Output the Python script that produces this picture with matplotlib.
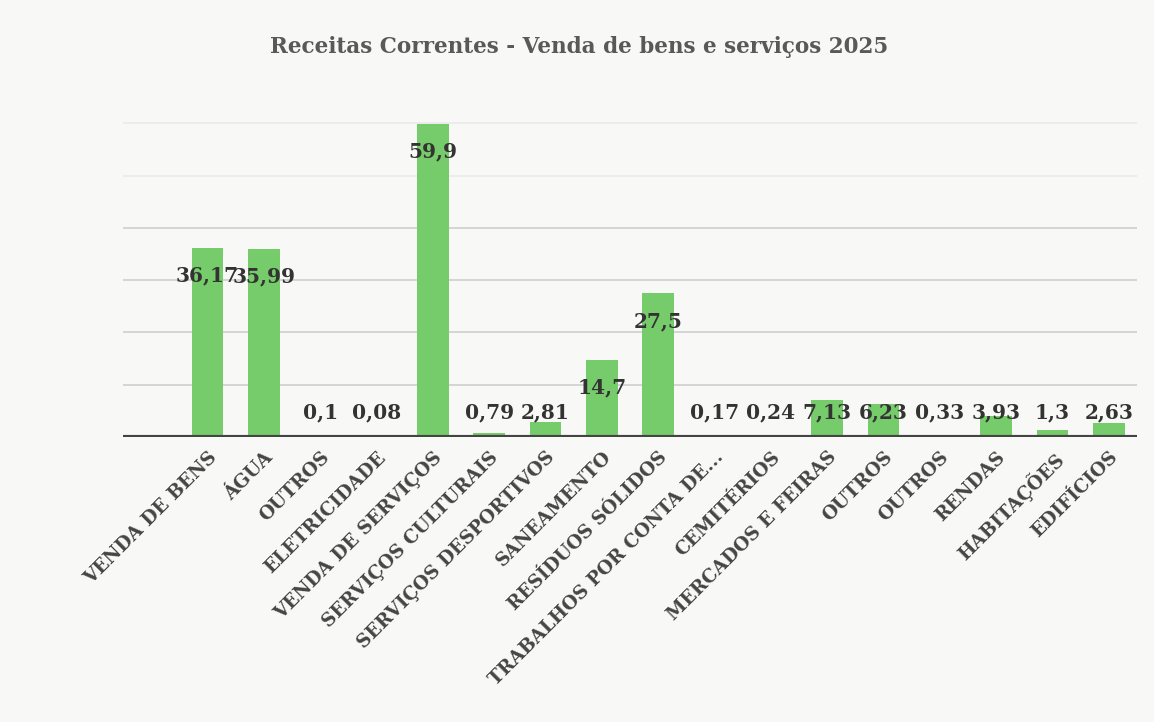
import matplotlib
matplotlib.use("Agg")
import matplotlib.pyplot as plt
import numpy as np

categories = [
    "VENDA DE BENS", "ÁGUA", "OUTROS", "ELETRICIDADE", "VENDA DE SERVIÇOS",
    "SERVIÇOS CULTURAIS", "SERVIÇOS DESPORTIVOS", "SANEAMENTO", "RESÍDUOS SÓLIDOS",
    "TRABALHOS POR CONTA DE...", "CEMITÉRIOS", "MERCADOS E FEIRAS", "OUTROS",
    "OUTROS", "RENDAS", "HABITAÇÕES", "EDIFÍCIOS",
]
values = [36.17, 35.99, 0.1, 0.08, 59.9, 0.79, 2.81, 14.7, 27.5,
          0.17, 0.24, 7.13, 6.23, 0.33, 3.93, 1.3, 2.63]
value_labels = ["36,17", "35,99", "0,1", "0,08", "59,9", "0,79", "2,81", "14,7", "27,5",
                "0,17", "0,24", "7,13", "6,23", "0,33", "3,93", "1,3", "2,63"]

bar_color = "#76cc6a"
text_color = "#333333"
bg = "#f8f8f6"

plt.rcParams["font.family"] = ["DejaVu Serif"]

fig = plt.figure(figsize=(11.54, 7.22), dpi=100, facecolor=bg)
ax = fig.add_axes([0.1066, 0.3947, 0.8787, 0.507])
ax.set_facecolor(bg)

x = np.arange(len(categories))
ax.bar(x, values, width=0.56, color=bar_color, zorder=2)

# gridlines (upper ones barely visible in the scan)
for g in range(10, 70, 10):
    ax.axhline(g, color="#d2d2d2" if g <= 40 else "#ebebeb", lw=1.3, zorder=1)
ax.axhline(0, color="#444444", lw=3, zorder=3)

for xi, v, lab in zip(x, values, value_labels):
    ax.text(xi, max(v - 5.3, 4.7), lab, ha="center", va="center",
            fontsize=14.5, fontweight="bold", color=text_color, zorder=4)

ax.set_xlim(-1.5, 16.5)
ax.set_ylim(0, 70)
ax.set_yticks([])
ax.set_xticks(x)
ax.set_xticklabels(categories, rotation=45, ha="right", va="top",
                   rotation_mode="anchor", fontsize=13.3, fontweight="bold",
                   color="#454545")
ax.tick_params(axis="x", length=0, pad=8)
for s in ax.spines.values():
    s.set_visible(False)

fig.text(0.502, 0.935, "Receitas Correntes - Venda de bens e serviços 2025",
         ha="center", va="center", fontsize=15.5, fontweight="bold", color="#595959")

fig.savefig("out.png", dpi=100, facecolor=bg)
